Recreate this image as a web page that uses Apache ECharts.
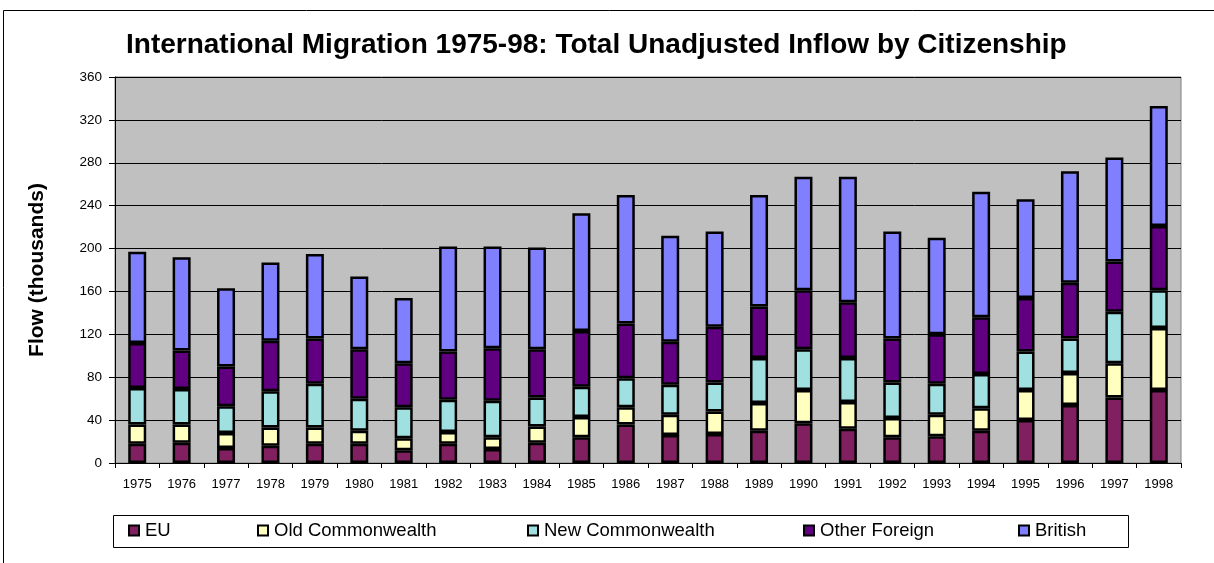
<!DOCTYPE html>
<html>
<head>
<meta charset="utf-8">
<script src="https://cdn.jsdelivr.net/npm/echarts@6/dist/echarts.min.js"></script>
<style>
  html, body { margin: 0; padding: 0; background: #fff; }
  #chart { width: 1214px; height: 563px; }
</style>
</head>
<body>
<div id="chart"></div>
<script>
const years = ["1975", "1976", "1977", "1978", "1979", "1980", "1981", "1982", "1983", "1984", "1985", "1986",
  "1987", "1988", "1989", "1990", "1991", "1992", "1993", "1994", "1995", "1996", "1997", "1998"];

// thousands
const eu = [18, 19, 14, 16, 18, 18, 12, 18, 13, 19, 24, 36, 26, 27, 30, 37, 32, 24, 25, 30, 40, 54, 61, 68];
const oldCommonwealth = [18, 17, 14, 17, 15, 12, 11, 11, 11, 15, 19, 16, 19, 21, 26, 31, 25, 18, 20, 21, 28, 30, 32, 58];
const newCommonwealth = [34, 33, 25, 34, 41, 30, 29, 30, 34, 27, 28, 27, 28, 27, 42, 38, 41, 33, 29, 32, 36, 32, 48, 35];
const otherForeign = [42, 36, 37, 47, 42, 46, 41, 45, 49, 45, 52, 51, 40, 52, 48, 55, 52, 41, 46, 53, 50, 52, 47, 60];
const british = [85, 87, 73, 73, 79, 68, 61, 98, 95, 95, 110, 120, 99, 89, 104, 106, 117, 100, 90, 117, 92, 104, 97, 112];

const yMax = 360;
const yStep = 40;

const FONT = "'Liberation Sans', Arial, sans-serif";

const SERIES = [
  { name: "EU", data: eu, color: "#802060", legendLeft: 128 },
  { name: "Old Commonwealth", data: oldCommonwealth, color: "#FFFFC0", legendLeft: 257 },
  { name: "New Commonwealth", data: newCommonwealth, color: "#A0E0E0", legendLeft: 527 },
  { name: "Other Foreign", data: otherForeign, color: "#600080", legendLeft: 803 },
  { name: "British", data: british, color: "#8080FF", legendLeft: 1018 },
];

const chart = echarts.init(document.getElementById("chart"), null, { renderer: "canvas" });

chart.setOption({
  animation: false,
  textStyle: { fontFamily: FONT },
  title: {
    text: "International Migration 1975-98: Total Unadjusted Inflow by Citizenship",
    left: 121,
    top: 26,
    textStyle: { fontFamily: FONT, fontSize: 28, fontWeight: "bold", color: "#000" },
  },
  legend: SERIES.map((s) => ({
    data: [s.name],
    left: s.legendLeft,
    top: 521,
    padding: 0,
    icon: "rect",
    itemWidth: 10,
    itemHeight: 10,
    selectedMode: false,
    itemStyle: { borderColor: "#000", borderWidth: 2 },
    textStyle: { fontFamily: FONT, fontSize: 18.5, color: "#000", padding: [0, 0, 0, 1] },
  })),
  graphic: [
    {
      type: "rect",
      shape: { x: 3.5, y: 10.5, width: 1300, height: 700 },
      style: { fill: "none", stroke: "#000", lineWidth: 1 },
      silent: true,
    },
    {
      type: "rect",
      shape: { x: 113.5, y: 515.5, width: 1015, height: 32 },
      style: { fill: "none", stroke: "#000", lineWidth: 1 },
      silent: true,
      z: -1,
    },
  ],
  grid: {
    left: 115,
    right: 33,
    top: 77,
    bottom: 100,
    show: true,
    backgroundColor: "#C0C0C0",
    borderColor: "#808080",
    borderWidth: 1,
  },
  xAxis: {
    type: "category",
    data: years,
    axisLine: { lineStyle: { color: "#000", width: 1 } },
    axisTick: { show: true, length: 5, lineStyle: { color: "#000" } },
    axisLabel: { color: "#000", fontSize: 13, margin: 15, interval: 0 },
  },
  yAxis: {
    type: "value",
    min: 0,
    max: yMax,
    interval: yStep,
    name: "Flow (thousands)",
    nameLocation: "middle",
    nameGap: 67,
    nameTextStyle: { fontFamily: FONT, fontSize: 21, fontWeight: "bold", color: "#000" },
    axisLine: { show: true, lineStyle: { color: "#000", width: 1 } },
    axisTick: { show: true, length: 6, lineStyle: { color: "#000" } },
    axisLabel: { color: "#000", fontSize: 13.5, margin: 13 },
    splitLine: { show: true, lineStyle: { color: "#000", width: 1 } },
  },
  series: SERIES.map((s) => ({
    name: s.name,
    type: "bar",
    stack: "total",
    data: s.data,
    barWidth: 18,
    itemStyle: { color: s.color, borderColor: "#000", borderWidth: 2.5 },
  })),
});
</script>
</body>
</html>
